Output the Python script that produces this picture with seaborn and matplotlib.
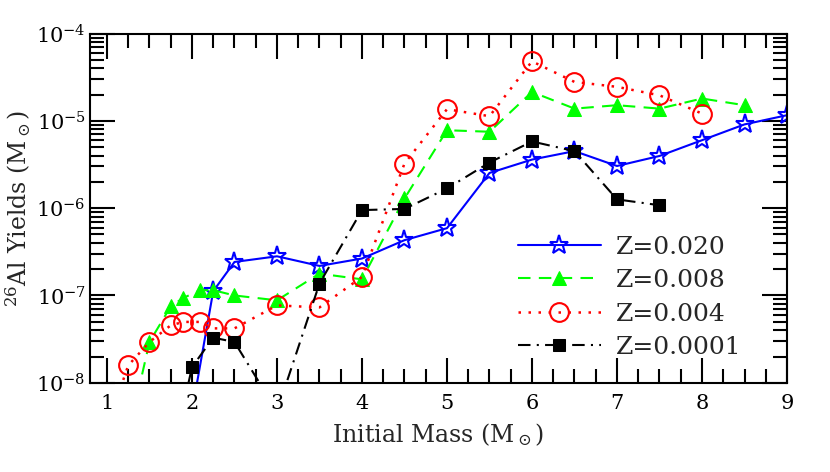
# 26Al yields vs initial mass for four metallicities
import pandas as pd
import seaborn as sb
import matplotlib.pyplot as plt
from matplotlib.ticker import MultipleLocator, LogLocator, NullFormatter

# Data (values below 1e-8 are off the plot but set the line slopes)
mass_z020 = [2.0, 2.25, 2.5, 3.0, 3.5, 4.0, 4.5, 5.0, 5.5, 6.0, 6.5, 7.0, 7.5, 8.0, 8.5, 9.0]
al_z020 = [4.7e-9, 1.12e-7, 2.42e-7, 2.81e-7, 2.18e-7, 2.65e-7, 4.3e-7, 5.9e-7,
           2.53e-6, 3.6e-6, 4.5e-6, 3.04e-6, 3.96e-6, 6.0e-6, 9.1e-6, 1.16e-5]

mass_z008 = [1.25, 1.5, 1.75, 1.9, 2.1, 2.25, 2.5, 3.0, 3.5, 4.0, 4.5, 5.0, 5.5,
             6.0, 6.5, 7.0, 7.5, 8.0, 8.5]
al_z008 = [2.5e-9, 2.93e-8, 7.5e-8, 9.4e-8, 1.15e-7, 1.15e-7, 1.0e-7, 8.8e-8, 1.78e-7,
           1.53e-7, 1.29e-6, 7.8e-6, 7.5e-6, 2.14e-5, 1.38e-5, 1.51e-5, 1.38e-5,
           1.8e-5, 1.51e-5]

mass_z004 = [1.0, 1.25, 1.5, 1.75, 1.9, 2.1, 2.25, 2.5, 3.0, 3.5, 4.0, 4.5, 5.0, 5.5,
             6.0, 6.5, 7.0, 7.5, 8.0]
al_z004 = [3.1e-9, 1.58e-8, 2.93e-8, 4.55e-8, 4.98e-8, 4.98e-8, 4.2e-8, 4.2e-8, 7.7e-8,
           7.3e-8, 1.63e-7, 3.24e-6, 1.36e-5, 1.13e-5, 4.8e-5, 2.79e-5, 2.45e-5,
           1.96e-5, 1.21e-5]

mass_z0001 = [1.75, 2.0, 2.25, 2.5, 3.0, 3.5, 4.0, 4.5, 5.0, 5.5, 6.0, 6.5, 7.0, 7.5]
al_z0001 = [1.2e-9, 1.51e-8, 3.29e-8, 2.93e-8, 4.7e-9, 1.37e-7, 9.5e-7, 9.8e-7, 1.68e-6,
            3.33e-6, 5.8e-6, 4.5e-6, 1.26e-6, 1.08e-6]

labels = ["Z=0.020", "Z=0.008", "Z=0.004", "Z=0.0001"]

sb.set_theme(style="ticks")
plt.rcParams['font.family'] = ['DejaVu Serif']
plt.rcParams['mathtext.fontset'] = 'dejavuserif'

fig = plt.figure(figsize=(8.3, 4.72), dpi=100)
ax = fig.add_axes([0.1084, 0.189, 0.8398, 0.740])

sb.lineplot(x=mass_z020, y=al_z020, ax=ax, color="blue", linestyle="-", lw=1.5,
            marker="*", markersize=14, markerfacecolor="none", markeredgecolor="blue",
            markeredgewidth=1.5, label=labels[0])
sb.lineplot(x=mass_z008, y=al_z008, ax=ax, color="#00ff00", linestyle=(0, (6, 4)), lw=1.5,
            marker="^", markersize=10, markerfacecolor="#00ff00", markeredgecolor="#00ff00",
            label=labels[1])
sb.lineplot(x=mass_z004, y=al_z004, ax=ax, color="red", linestyle=(0, (1, 3)), lw=1.8,
            marker="o", markersize=13.5, markerfacecolor="none", markeredgecolor="red",
            markeredgewidth=1.5, label=labels[2])
sb.lineplot(x=mass_z0001, y=al_z0001, ax=ax, color="black", linestyle=(0, (6, 3, 1, 3)), lw=1.5,
            marker="s", markersize=9, markerfacecolor="black", markeredgecolor="black",
            label=labels[3])

ax.set_yscale("log")
ax.set_xlim(0.8, 9.0)
ax.set_ylim(1e-8, 1e-4)

ax.xaxis.set_major_locator(MultipleLocator(1))
ax.xaxis.set_minor_locator(MultipleLocator(0.25))
ax.yaxis.set_major_locator(LogLocator(base=10))
ax.yaxis.set_minor_locator(LogLocator(base=10, subs=range(2, 10)))
ax.yaxis.set_minor_formatter(NullFormatter())

ax.tick_params(which="both", direction="in", top=True, right=True, width=1.5, colors="black")
ax.tick_params(which="major", length=18, labelsize=15, pad=8)
ax.tick_params(which="minor", length=10)
ax.tick_params(axis="y", which="major", pad=3)
for s in ax.spines.values():
    s.set_linewidth(1.5)
    s.set_color("black")

ax.set_xlabel(r"Initial Mass (M$_\odot$)", fontsize=17, labelpad=6)
ax.set_ylabel(r"$^{26}$Al Yields (M$_\odot$)", fontsize=17, labelpad=2)

ax.legend(loc="upper left", bbox_to_anchor=(0.60, 0.45), frameon=False, fontsize=18,
          handlelength=3.3, handletextpad=0.6, labelspacing=0.42, borderaxespad=0)

fig.savefig("out.png", dpi=100)
